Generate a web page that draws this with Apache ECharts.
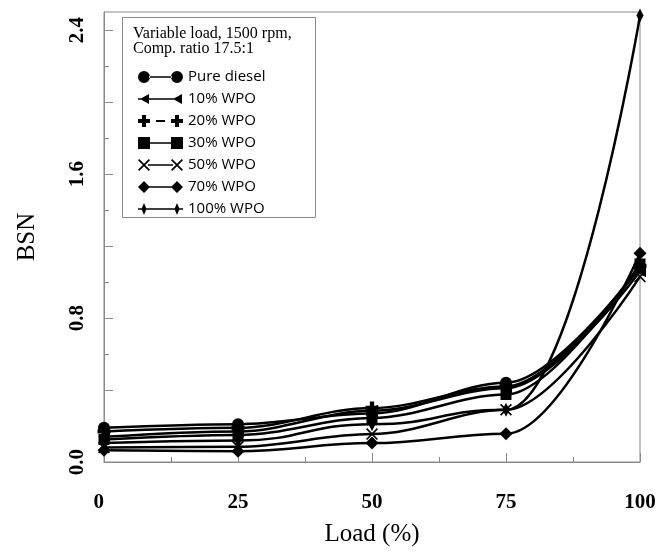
<!DOCTYPE html>
<html>
<head>
<meta charset="utf-8">
<script src="https://cdn.jsdelivr.net/npm/echarts@6/dist/echarts.min.js"></script>
<style>
  html, body { margin: 0; padding: 0; background: #fff; }
  #chart { width: 666px; height: 552px; }
</style>
</head>
<body>
<div id="chart"></div>
<script>
// ---- data ----
const loads = [0, 25, 50, 75, 100];
const seriesNames = ['Pure diesel', '10% WPO', '20% WPO', '30% WPO', '50% WPO', '70% WPO', '100% WPO'];
const pureDiesel = [0.19, 0.21, 0.27, 0.44, 1.08];
const wpo10 = [0.14, 0.17, 0.285, 0.41, 1.06];
const wpo20 = [0.17, 0.19, 0.30, 0.42, 1.09];
const wpo30 = [0.125, 0.15, 0.245, 0.375, 1.10];
const wpo50 = [0.08, 0.085, 0.155, 0.29, 1.03];
const wpo70 = [0.065, 0.06, 0.105, 0.157, 1.16];
const wpo100 = [0.105, 0.12, 0.21, 0.29, 2.48];
const xTicks = [0, 25, 50, 75, 100];
const yLabelTicks = [0, 0.8, 1.6, 2.4];
const yMajorTicks = [0, 0.4, 0.8, 1.2, 1.6, 2.0, 2.4];
const yMinorTicks = [0.2, 0.6, 1.0, 1.4, 1.8, 2.2];
const legendTitle = ['Variable load, 1500 rpm,', 'Comp. ratio 17.5:1'];

const allValues = [pureDiesel, wpo10, wpo20, wpo30, wpo50, wpo70, wpo100];

// ---- marker shapes ----
const plusPath = 'path://M4,0H8V4H12V8H8V12H4V8H0V4H4Z';
const xPath = 'path://M0,1.2L1.2,0L6,4.8L10.8,0L12,1.2L7.2,6L12,10.8L10.8,12L6,7.2L1.2,12L0,10.8L4.8,6Z';
const thinDiamondPath = 'path://M3,6L6,0L9,6L6,12Z';
const symbols = [
  { symbol: 'circle', size: 12, rotate: 0, smooth: 0.35 },
  { symbol: 'triangle', size: 12, rotate: 90, smooth: 0.35 },
  { symbol: plusPath, size: 13, rotate: 0, smooth: 0.35 },
  { symbol: 'rect', size: 11, rotate: 0, smooth: 0.35 },
  { symbol: xPath, size: 12, rotate: 0, smooth: 0.35 },
  { symbol: 'diamond', size: 13, rotate: 0, smooth: 0.4 },
  { symbol: thinDiamondPath, size: [7, 14], rotate: 0, smooth: 0.5 }
];

// ---- legend icons: marker - line - marker ----
function xAt(o) {
  const p = [[0,1.2],[1.2,0],[6,4.8],[10.8,0],[12,1.2],[7.2,6],[12,10.8],[10.8,12],[6,7.2],[1.2,12],[0,10.8],[4.8,6]];
  return 'M' + p.map(q => (q[0] + o) + ',' + q[1]).join('L') + 'Z';
}
function plusAt(o) {
  const p = [[4,0],[8,0],[8,4],[12,4],[12,8],[8,8],[8,12],[4,12],[4,8],[0,8],[0,4],[4,4]];
  return 'M' + p.map(q => (q[0] + o) + ',' + q[1]).join('L') + 'Z';
}
const legendIcons = [
  'path://M0,6A6,6,0,1,0,12,6A6,6,0,1,0,0,6Z M11,5.2H34V6.8H11Z M33,6A6,6,0,1,0,45,6A6,6,0,1,0,33,6Z',
  'path://M0,5.2H3V6.8H0Z M2,6L11,1L11,11Z M10,5.2H36V6.8H10Z M35,6L44,1L44,11Z M0,0L0.01,0L0.01,0.01Z M44.99,12L45,12L45,11.99Z',
  'path://' + plusAt(0) + ' M18,5H27V7H18Z ' + plusAt(33),
  'path://M0,0H12V12H0Z M12,5.2H33V6.8H12Z M33,0H45V12H33Z',
  'path://' + xAt(0) + ' M10,5.2H35V6.8H10Z ' + xAt(33),
  'path://M0,6L6,0L12,6L6,12Z M11,5.2H34V6.8H11Z M33,6L39,0L45,6L39,12Z',
  'path://M0,5.2H45V6.8H0Z M3.5,6L6,0L8.5,6L6,12Z M36.5,6L39,0L41.5,6L39,12Z'
];

const serif = '"Liberation Serif", "Times New Roman", serif';
const chart = echarts.init(document.getElementById('chart'), null, { renderer: 'canvas' });

const series = seriesNames.map((name, i) => ({
  name: name,
  type: 'line',
  yAxisIndex: 0,
  smooth: symbols[i].smooth,
  smoothMonotone: 'x',
  data: loads.map((x, j) => [x, allValues[i][j]]),
  symbol: symbols[i].symbol,
  symbolSize: symbols[i].size,
  symbolRotate: symbols[i].rotate,
  showAllSymbol: true,
  clip: false,
  color: '#000',
  lineStyle: { color: '#000', width: 2.5 },
  itemStyle: { color: '#000', borderWidth: 0 },
  emphasis: { disabled: true },
  z: 3
}));

chart.setOption({
  animation: false,
  backgroundColor: '#fff',
  grid: {
    left: 104, right: 26, top: 12, bottom: 84,
    show: true, borderColor: '#8a8a8a', borderWidth: 1, backgroundColor: 'transparent'
  },
  xAxis: {
    type: 'value', min: 0, max: 100, interval: 25,
    name: 'Load (%)', nameLocation: 'middle', nameGap: 60,
    nameTextStyle: { fontFamily: serif, fontSize: 25, color: '#000' },
    axisLine: { show: true, lineStyle: { color: '#8a8a8a', width: 1 } },
    axisTick: { show: true, inside: true, length: 9, lineStyle: { color: '#8a8a8a' } },
    minorTick: { show: true, splitNumber: 2, length: 5, lineStyle: { color: '#8a8a8a' } },
    axisLabel: {
      customValues: xTicks,
      fontFamily: serif, fontSize: 21, fontWeight: 'bold', color: '#000', margin: 30,
      alignMinLabel: 'right'
    },
    splitLine: { show: false }
  },
  yAxis: [{
    type: 'value', min: 0, max: 2.5,
    name: 'BSN', nameLocation: 'middle', nameGap: 64, nameRotate: 90,
    nameTextStyle: { fontFamily: serif, fontSize: 25, color: '#000' },
    axisLine: { show: true, lineStyle: { color: '#8a8a8a', width: 1 } },
    axisTick: { show: true, inside: true, length: 9, customValues: yMajorTicks, lineStyle: { color: '#8a8a8a' } },
    axisLabel: {
      customValues: yLabelTicks, rotate: 90,
      formatter: v => v.toFixed(1),
      fontFamily: serif, fontSize: 21, fontWeight: 'bold', color: '#000', margin: 16
    },
    splitLine: { show: false }
  }, {
    type: 'value', min: 0, max: 2.5, position: 'left',
    axisLine: { show: false },
    axisTick: { show: true, inside: true, length: 5, customValues: yMinorTicks, lineStyle: { color: '#8a8a8a' } },
    axisLabel: { show: false },
    splitLine: { show: false }
  }],
  legend: {
    orient: 'vertical', left: 133, top: 64,
    itemWidth: 45, itemHeight: 12, itemGap: 6,
    selectedMode: false,
    textStyle: { fontFamily: '"Open Sans", sans-serif', fontSize: 15, color: '#000', lineHeight: 16 },
    data: seriesNames.map((n, i) => ({ name: n, icon: legendIcons[i] })),
    z: 10
  },
  graphic: [
    {
      type: 'rect', z: 5, silent: true,
      shape: { x: 122.5, y: 17.5, width: 193, height: 200 },
      style: { fill: '#fff', stroke: '#8a8a8a', lineWidth: 1 }
    },
    {
      type: 'text', z: 6, silent: true, left: 133, top: 26,
      style: { text: legendTitle[0], font: '16px ' + serif, fill: '#000' }
    },
    {
      type: 'text', z: 6, silent: true, left: 133, top: 41,
      style: { text: legendTitle[1], font: '16px ' + serif, fill: '#000' }
    }
  ],
  series: series
});
</script>
</body>
</html>
